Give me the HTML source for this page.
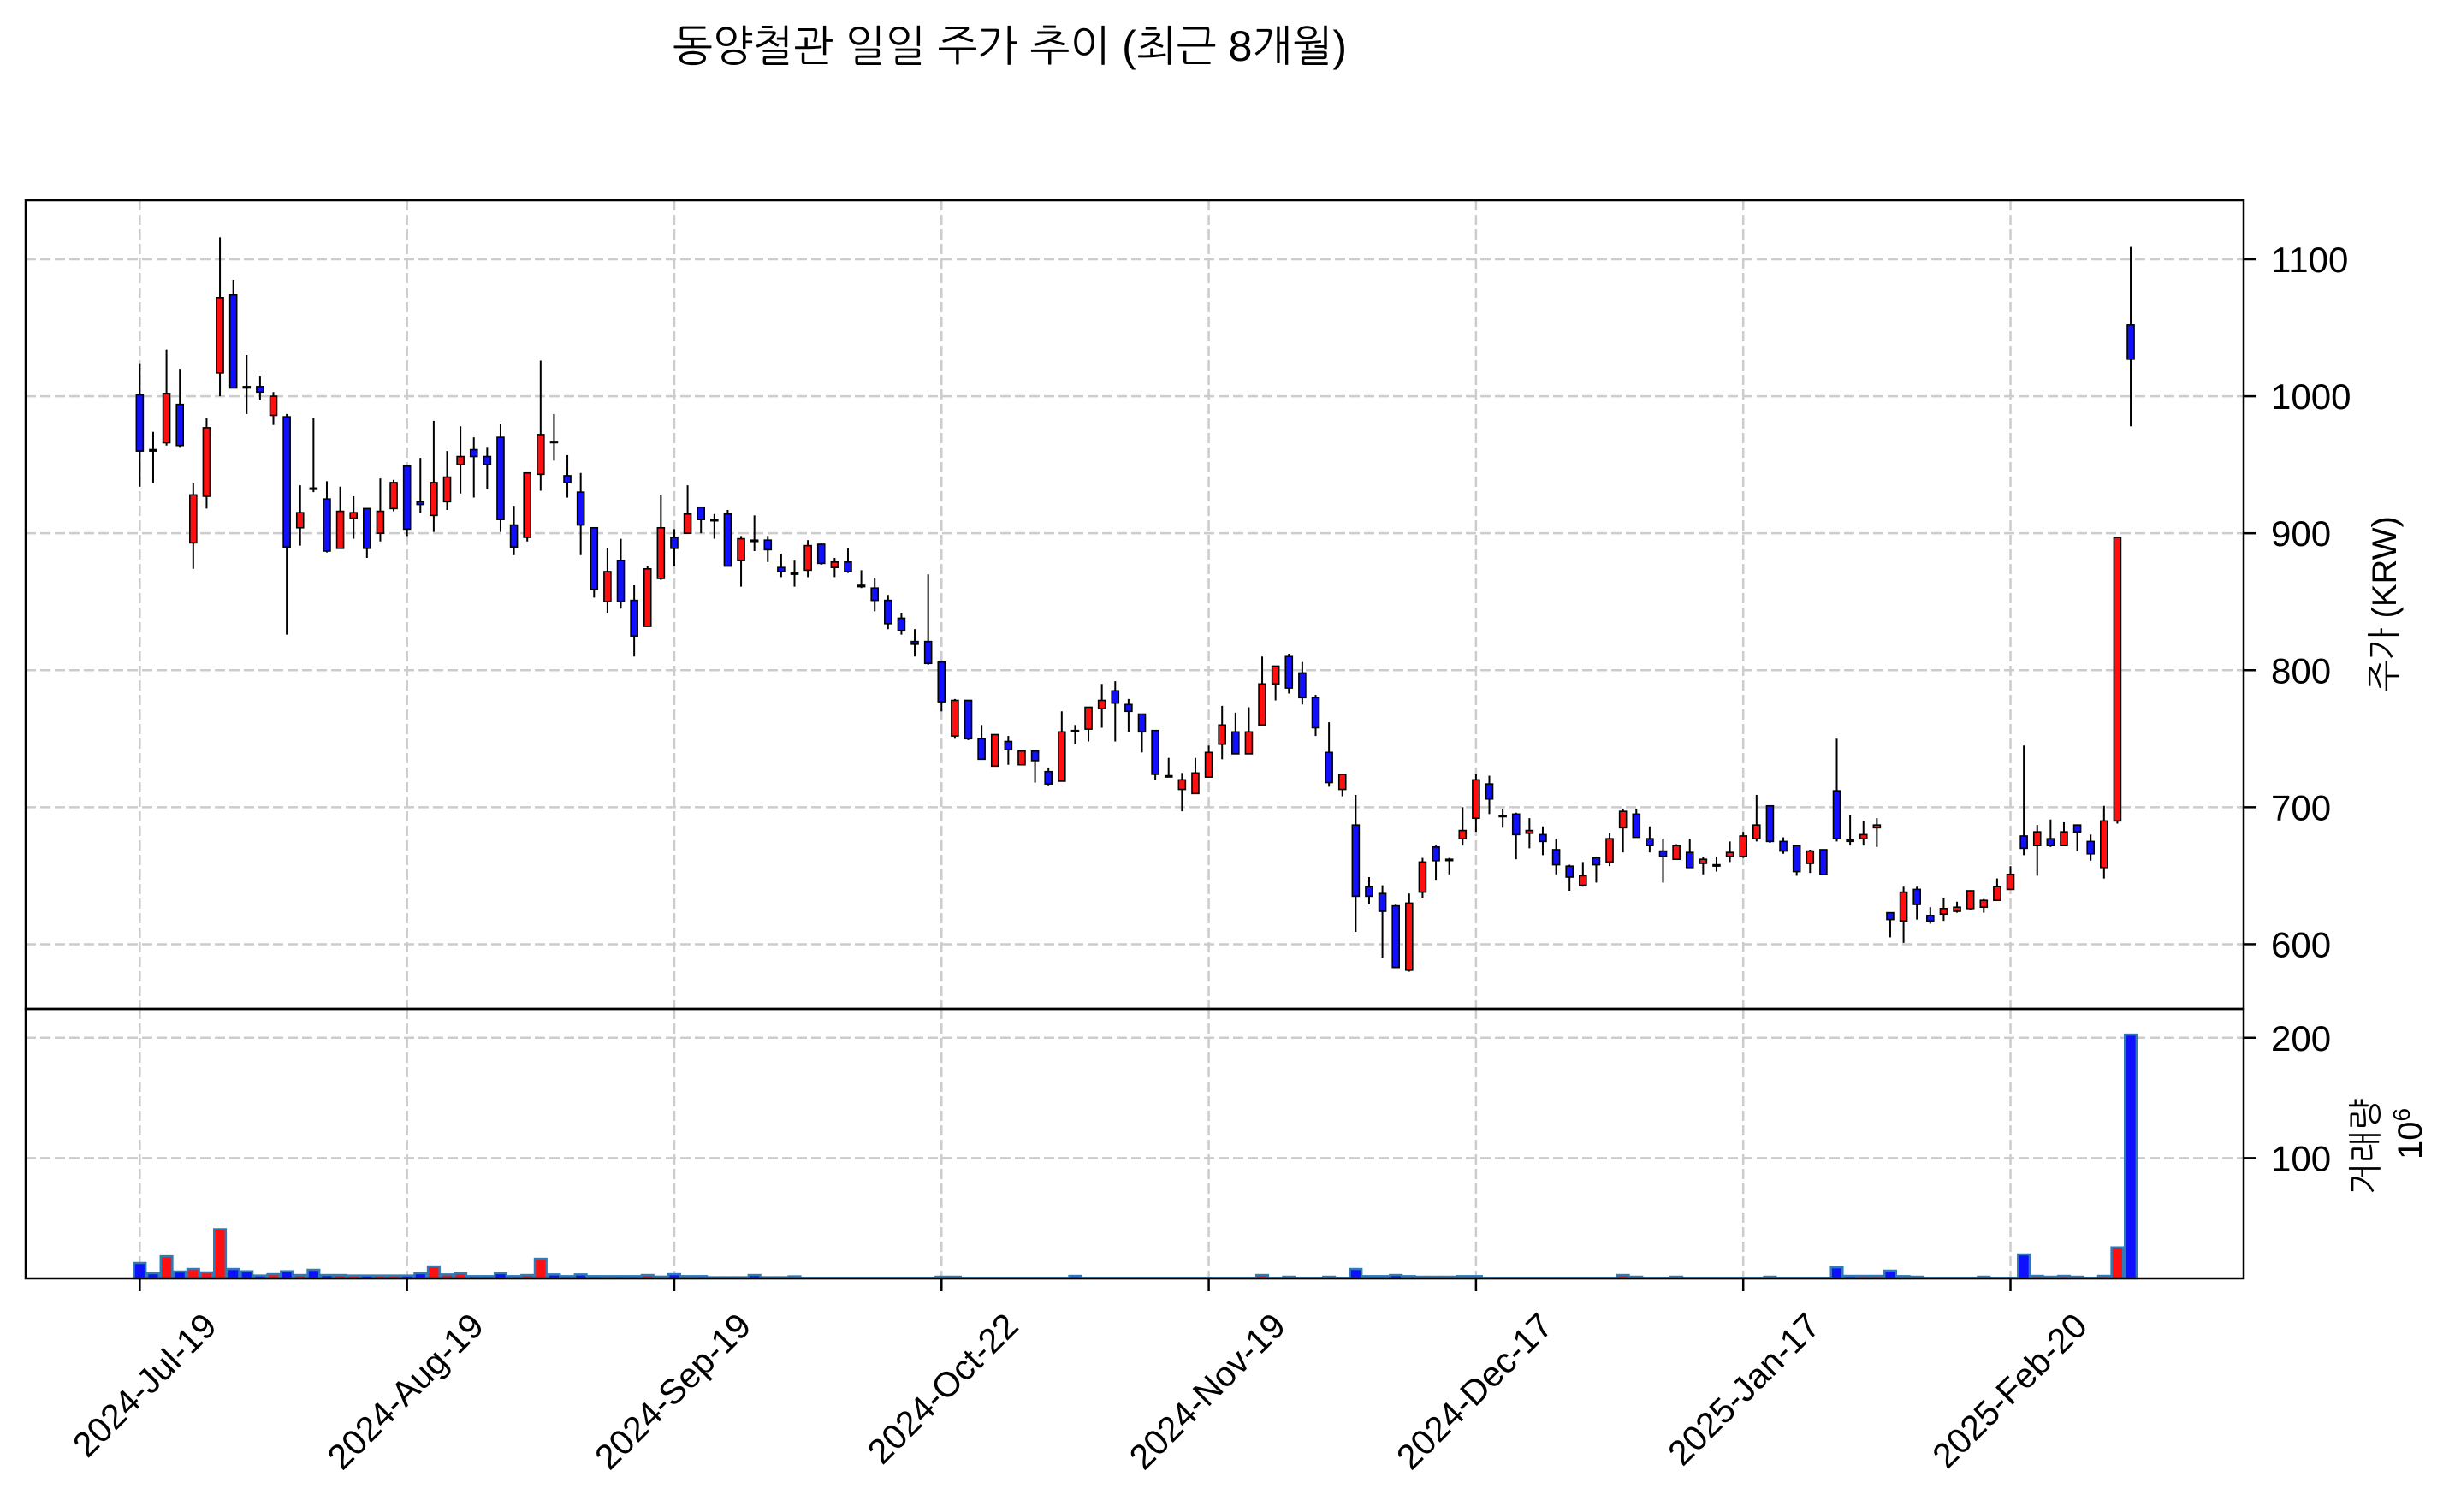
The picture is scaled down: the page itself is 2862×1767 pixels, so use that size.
<!DOCTYPE html>
<html><head><meta charset="utf-8"><title>동양철관 일일 주가 추이</title>
<style>html,body{margin:0;padding:0;background:#fff;}svg{display:block;}</style></head>
<body>
<svg id="chart" xmlns="http://www.w3.org/2000/svg" width="2862" height="1767" viewBox="0 0 2862 1767" font-family="'Liberation Sans','NanumGothic','Noto Sans CJK KR',sans-serif">
<rect width="2862" height="1767" fill="#fff"/>
<text x="1180" y="71" text-anchor="middle" font-size="50" textLength="788" lengthAdjust="spacingAndGlyphs" font-family="'Liberation Sans','NanumGothic','Noto Sans CJK KR',sans-serif">동양철관 일일 주가 추이 (최근 8개월)</text>
<g id="grid"></g>
<g id="vols"></g>
<g id="candles"></g>
<g id="axes"></g>
<text transform="translate(2800,706) rotate(-90)" text-anchor="middle" font-size="40">주가 (KRW)</text>
<text transform="translate(2778,1340) rotate(-90)" text-anchor="middle" font-size="40">거래량</text>
<text transform="translate(2830,1325) rotate(-90)" text-anchor="middle" font-size="40">10<tspan dy="-14" font-size="28">6</tspan></text>
</svg>
<script>
const opens  = [1001,961,966,994,893,927,1017,1074,1007,1007,986,985,904,933,925,889,911,918,900,918,949,923,913,923,950,961,956,970,906,897,943,967,942,930,904,850,880,851,832,867,897,900,919,910,914,880,895,895,875,871,873,892,875,879,862,860,851,838,821,821,806,752,778,750,730,748,731,741,726,719,756,757,772,785,775,768,756,723,713,710,722,746,755,739,760,790,810,798,780,740,713,687,642,637,628,581,638,671,662,677,692,717,694,695,681,680,669,657,643,663,660,685,695,677,668,662,667,659,658,664,664,677,701,675,672,659,669,712,676,677,685,623,617,640,621,622,624,626,627,632,640,679,672,677,672,687,675,656,690,1052];
const highs  = [1024,974,1034,1020,937,984,1116,1085,1030,1015,1003,987,935,984,938,934,927,918,940,939,950,955,982,960,978,970,963,980,920,944,1026,987,957,944,904,889,896,862,876,928,903,935,919,914,917,898,913,898,885,880,895,893,882,889,873,867,855,842,830,870,807,779,778,760,753,752,742,741,729,770,760,773,790,792,779,768,756,736,725,736,745,774,769,773,810,803,812,806,782,762,724,709,649,643,629,637,663,672,663,700,724,723,699,696,692,686,677,658,660,664,681,699,699,686,677,673,677,664,664,675,682,709,701,678,672,669,669,750,694,690,692,623,642,642,627,634,631,639,633,648,657,745,687,691,689,687,680,701,897,1109];
const lows   = [934,937,964,963,874,918,1000,1006,987,997,979,826,891,930,886,889,896,882,894,916,898,915,901,917,929,926,932,901,884,894,931,953,926,884,853,842,845,810,832,866,876,900,900,896,876,861,887,879,868,861,868,877,868,871,860,843,830,826,810,804,770,750,749,735,730,731,731,718,716,719,746,748,758,748,755,740,720,722,697,710,722,735,739,739,760,778,783,775,752,715,708,609,629,590,583,580,634,647,651,672,682,695,685,662,670,665,651,639,642,645,657,667,678,667,645,662,656,651,653,660,663,675,674,666,650,652,651,675,672,672,671,605,601,618,615,617,623,625,623,632,640,665,650,671,672,668,661,648,688,978];
const closes = [960,960,1002,964,928,977,1072,1006,1006,1003,1000,890,915,933,887,916,915,889,916,937,903,921,937,941,956,956,950,910,890,944,972,967,937,906,859,872,850,825,874,904,889,914,910,910,876,896,894,888,872,871,891,878,879,872,861,851,834,829,819,805,777,778,750,735,753,742,741,734,717,755,756,773,778,776,770,755,724,723,720,725,740,760,739,755,790,803,787,780,758,718,724,635,635,624,583,630,660,661,662,683,720,706,694,680,683,675,658,649,650,658,677,697,678,672,664,672,656,662,658,667,679,687,675,668,653,668,651,677,676,680,687,618,638,629,617,626,627,639,632,642,651,670,682,672,682,682,666,690,897,1027];
const volumes = [12.8,4.3,18.4,5.7,7.8,5,40.9,7.8,5.9,2.4,3.5,5.9,2.8,7.1,2.8,2.8,2.4,2.4,2.4,2.4,2.4,4.3,9.9,3.3,4.3,1.9,1.9,4.3,1.9,2.8,16.3,3.3,1.9,3.3,1.9,1.9,1.9,1.9,2.8,1.5,3.5,1.9,1.9,1,1,1,2.8,1,1,1.7,0.5,0.5,0.5,0.5,0.5,0.5,0.5,0.5,0.5,0.5,1.4,1.4,0.5,0.5,0.5,0.5,0.5,0.5,0.5,0.5,2.1,0.5,0.5,0.5,0.5,0.5,0.5,0.5,0.5,0.5,0.5,0.5,0.5,0.5,2.8,0.5,1.4,0.5,0.5,1.4,0.5,7.8,1.9,1.9,2.8,1.9,1.4,1.4,1.4,1.9,1.9,0.5,0.5,0.5,0.5,0.5,0.5,0.5,0.5,0.5,0.5,2.8,1.4,0.5,0.5,1.4,0.5,0.5,0.5,0.5,0.5,0.5,1.4,0.5,0.5,0.5,0.5,9.2,2.1,2.1,2.1,6.4,1.9,1.4,0.5,0.5,0.5,0.5,1.4,0.5,0.5,19.9,2.1,1.4,2.1,1.4,0.5,2.1,25.8,202.6];
const xTickIdx = [0,20,40,60,80,100,120,140];
const xTickLabels = ["2024-Jul-19","2024-Aug-19","2024-Sep-19","2024-Oct-22","2024-Nov-19","2024-Dec-17","2025-Jan-17","2025-Feb-20"];
const priceTicks = [600,700,800,900,1000,1100];
const volTicks = [100,200];

const NS="http://www.w3.org/2000/svg";
const L=30,R=2622,T=234,M=1179,B=1494;
const X0=-8.54,X1=157.45,P0=552.8,P1=1143.1,V1=224;
function xs(i){return L+(i-X0)/(X1-X0)*(R-L);}
function yp(p){return T+(P1-p)/(P1-P0)*(M-T);}
function yv(v){return B-v/V1*(B-M);}
function mk(tag,attrs,parent){const e=document.createElementNS(NS,tag);for(const k in attrs)e.setAttribute(k,attrs[k]);parent.appendChild(e);return e;}
const grid=document.getElementById('grid'),vols=document.getElementById('vols'),cg=document.getElementById('candles'),ax=document.getElementById('axes');
const gstyle={stroke:'#cccccc','stroke-width':2.5,'stroke-dasharray':'12,5',fill:'none'};
xTickIdx.forEach(i=>{
  const x=xs(i);
  const g1=mk('line',Object.assign({x1:x,x2:x,y1:T,y2:M},gstyle),grid);
  
  
  const g2=mk('line',Object.assign({x1:x,x2:x,y1:M,y2:B},gstyle),grid);
  
  
});
priceTicks.forEach(p=>{
  const g=mk('line',Object.assign({x1:L,x2:R,y1:yp(p),y2:yp(p)},gstyle),grid);
  
  
});
volTicks.forEach(v=>{
  const g=mk('line',Object.assign({x1:L,x2:R,y1:yv(v),y2:yv(v)},gstyle),grid);
  
  
});
const n=opens.length;
const step=(R-L)/(X1-X0);
for(let i=0;i<n;i++){
  const up=closes[i]>opens[i];
  const col=up?'#ff1010':'#1010ff';
  const x=xs(i);
  const vt=yv(volumes[i]);
  const vb=mk('rect',{x:x-step/2+1,y:vt,width:step-2,height:Math.max(B-vt,0.5),fill:col,stroke:'#2f7bb8','stroke-width':2.5},vols);
  
  
  const w=mk('line',{x1:x,x2:x,y1:yp(highs[i]),y2:yp(lows[i]),stroke:'#000','stroke-width':2},cg);
  
  
  const top=yp(Math.max(opens[i],closes[i])),bot=yp(Math.min(opens[i],closes[i]));
  const b=mk('rect',{x:x-4,y:top,width:8,height:Math.max(bot-top,1.5),fill:col,stroke:'#000','stroke-width':1.6},cg);
  
  
}
const f1=mk('rect',{x:L,y:T,width:R-L,height:M-T,fill:'none',stroke:'#000','stroke-width':2.5},ax);


const f2=mk('rect',{x:L,y:M,width:R-L,height:B-M,fill:'none',stroke:'#000','stroke-width':2.5},ax);


priceTicks.forEach(p=>{
  const y=yp(p);
  const t=mk('line',{x1:R,x2:R+15,y1:y,y2:y,stroke:'#000','stroke-width':2.5},ax);
  
  
  const l=mk('text',{x:R+32,y:y+15,'font-size':42},ax);
  l.textContent=p;
  
  
});
volTicks.forEach(v=>{
  const y=yv(v);
  const t=mk('line',{x1:R,x2:R+15,y1:y,y2:y,stroke:'#000','stroke-width':2.5},ax);
  
  
  const l=mk('text',{x:R+32,y:y+15,'font-size':42},ax);
  l.textContent=v;
  
  
});
xTickIdx.forEach((i,k)=>{
  const x=xs(i);
  const t=mk('line',{x1:x,x2:x,y1:B,y2:B+15,stroke:'#000','stroke-width':2.5},ax);
  
  
  const l=mk('text',{transform:'translate('+(x+92)+',1552) rotate(-45)','text-anchor':'end','font-size':41},ax);
  l.textContent=xTickLabels[k];
  
  
});
</script>
</body></html>
